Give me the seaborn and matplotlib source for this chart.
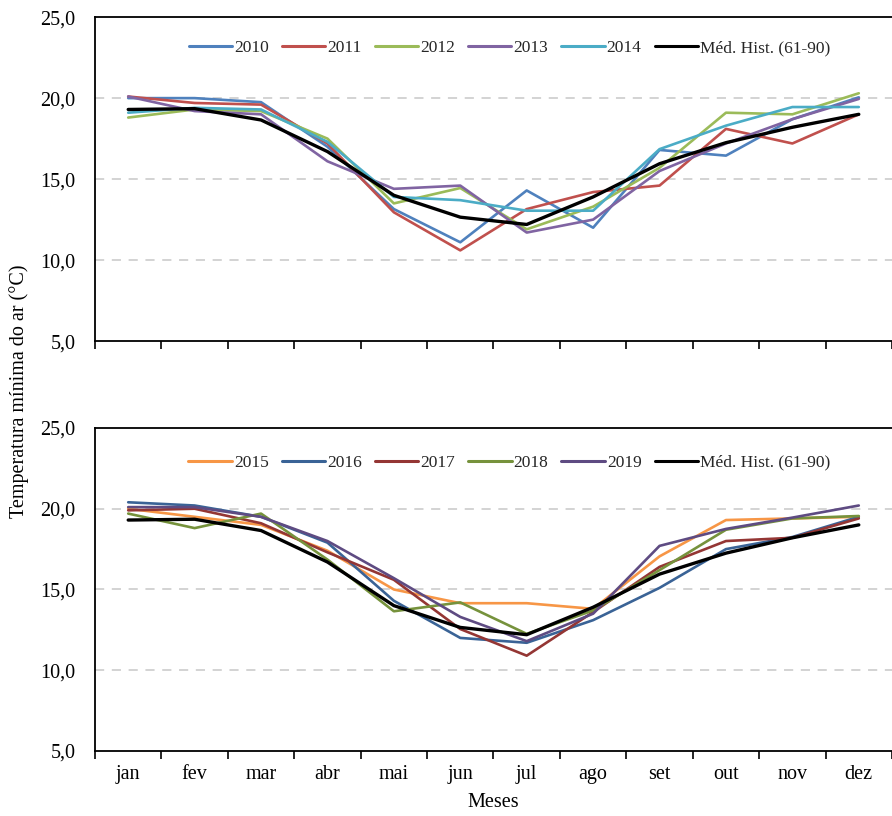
import matplotlib
matplotlib.use("Agg")
import matplotlib.pyplot as plt
import seaborn as sns
import pandas as pd
from matplotlib.ticker import FixedLocator, NullFormatter, FuncFormatter

# Meses e séries de temperatura mínima do ar (°C)
meses = ["jan", "fev", "mar", "abr", "mai", "jun", "jul", "ago", "set", "out", "nov", "dez"]

media_hist = [19.3, 19.35, 18.65, 16.7, 14.0, 12.65, 12.2, 13.9, 15.95, 17.25, 18.2, 19.0]
rotulo_media = "Méd. Hist. (61-90)"

t2010 = [20.0, 20.0, 19.75, 17.0, 13.15, 11.1, 14.3, 12.0, 16.8, 16.45, 18.7, 20.05]
t2011 = [20.1, 19.7, 19.6, 17.2, 12.95, 10.6, 13.15, 14.2, 14.6, 18.1, 17.2, 19.0]
t2012 = [18.8, 19.3, 19.2, 17.5, 13.5, 14.45, 11.9, 13.3, 15.7, 19.1, 19.0, 20.3]
t2013 = [20.1, 19.2, 19.0, 16.1, 14.4, 14.6, 11.7, 12.5, 15.5, 17.2, 18.7, 19.95]
t2014 = [19.1, 19.4, 19.3, 17.3, 13.9, 13.7, 13.05, 13.05, 16.85, 18.3, 19.45, 19.45]

t2015 = [20.0, 19.5, 19.0, 17.4, 15.0, 14.15, 14.15, 13.8, 17.05, 19.3, 19.4, 19.5]
t2016 = [20.4, 20.2, 19.5, 17.9, 14.3, 12.0, 11.7, 13.1, 15.1, 17.5, 18.25, 19.5]
t2017 = [19.9, 20.0, 19.1, 17.3, 15.6, 12.55, 10.9, 13.6, 16.4, 18.0, 18.2, 19.4]
t2018 = [19.7, 18.8, 19.7, 16.85, 13.65, 14.2, 12.25, 13.7, 16.2, 18.7, 19.4, 19.55]
t2019 = [20.1, 20.1, 19.5, 18.0, 15.7, 13.3, 11.8, 13.5, 17.7, 18.75, 19.45, 20.2]

anos_sup = ["2010", "2011", "2012", "2013", "2014"]
series_sup = [t2010, t2011, t2012, t2013, t2014]
cores_sup = ["#4F81BD", "#C0504D", "#9BBB59", "#8064A2", "#4BACC6"]

anos_inf = ["2015", "2016", "2017", "2018", "2019"]
series_inf = [t2015, t2016, t2017, t2018, t2019]
cores_inf = ["#F79646", "#3A6396", "#943634", "#76923C", "#5E4B82"]

y_ticks = [5.0, 10.0, 15.0, 20.0, 25.0]


def tabela(anos, series):
    partes = []
    for ano, vals in zip(anos, series):
        partes.append(pd.DataFrame({"mes": meses, "temp": vals, "serie": ano}))
    partes.append(pd.DataFrame({"mes": meses, "temp": media_hist, "serie": rotulo_media}))
    return pd.concat(partes, ignore_index=True)


sns.set_theme(style="white")
plt.rcParams["font.family"] = ["Liberation Serif", "DejaVu Serif"]
plt.rcParams["axes.edgecolor"] = "#000000"
plt.rcParams["axes.linewidth"] = 1.3

fig = plt.figure(figsize=(8.92, 8.16), dpi=100)
ax_sup = fig.add_axes([0.1065, 0.582, 0.8935, 0.397])
ax_inf = fig.add_axes([0.1065, 0.0797, 0.8935, 0.3958])

for ax, anos, series, cores, leg_y in [
    (ax_sup, anos_sup, series_sup, cores_sup, 0.905),
    (ax_inf, anos_inf, series_inf, cores_inf, 0.893),
]:
    df = tabela(anos, series)
    paleta = dict(zip(anos, cores))
    paleta[rotulo_media] = "#000000"
    sns.lineplot(data=df, x="mes", y="temp", hue="serie", palette=paleta,
                 sort=False, linewidth=1.9, ax=ax, legend=True)
    # a média histórica é a última série desenhada
    ax.lines[len(anos)].set_linewidth(2.4)

    ax.set_xlim(-0.5, 11.5)
    ax.set_ylim(5, 25)
    ax.set_yticks(y_ticks)
    ax.yaxis.set_major_formatter(FuncFormatter(lambda v, p: f"{v:.1f}".replace(".", ",")))
    for g in [10, 15, 20]:
        ax.axhline(g, color="#C8C8C8", linewidth=1.1, linestyle=(0, (6, 5)), zorder=0)

    # marcas entre categorias, rótulos no centro de cada mês
    ax.xaxis.set_major_locator(FixedLocator([i - 0.5 for i in range(13)]))
    ax.xaxis.set_major_formatter(NullFormatter())
    ax.xaxis.set_minor_locator(FixedLocator(list(range(12))))
    ax.tick_params(axis="x", which="major", direction="out", length=6, width=1.2,
                   color="#000000", bottom=True)
    ax.tick_params(axis="x", which="minor", length=0, pad=10)
    ax.tick_params(axis="y", length=0, pad=14, labelsize=14.5, labelcolor="#000000")
    ax.set_xlabel("")
    ax.set_ylabel("")
    ax.spines["right"].set_visible(False)
    for s in ["left", "bottom", "top"]:
        ax.spines[s].set_color("#000000")

    handles, labels = ax.get_legend_handles_labels()
    for h in handles:
        h.set_linewidth(2.2)
    ax.legend(handles, labels, ncol=6, frameon=False, loc="center",
              bbox_to_anchor=(0.52, leg_y), fontsize=12.5, handlelength=2.5,
              handletextpad=0.12, columnspacing=0.75, borderaxespad=0)

ax_sup.xaxis.set_minor_formatter(NullFormatter())
ax_inf.xaxis.set_minor_formatter(FuncFormatter(lambda v, p: meses[int(round(v))]))
ax_inf.tick_params(axis="x", which="minor", labelsize=14.5, labelcolor="#000000")

fig.text(0.021, 0.521, "Temperatura mínima do ar (°C)", rotation=90,
         ha="center", va="center", fontsize=14.5, color="#000000")
fig.text(0.553, 0.016, "Meses", ha="center", va="center", fontsize=14.5, color="#000000")

fig.savefig("out.png", dpi=100, facecolor="white")
